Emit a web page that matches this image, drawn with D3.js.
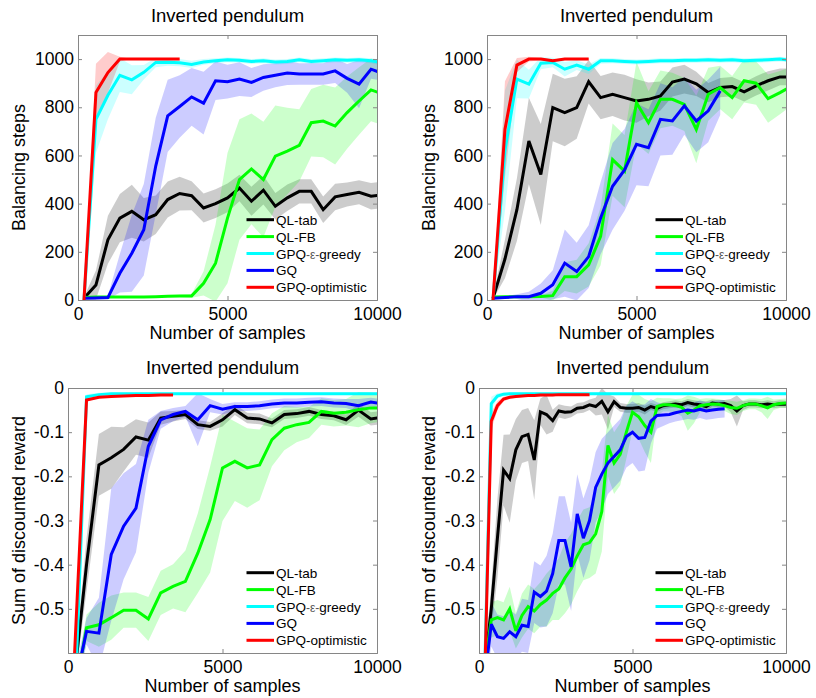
<!DOCTYPE html>
<html><head><meta charset="utf-8">
<script src="https://cdn.jsdelivr.net/npm/d3@7"></script>
<style>
body{margin:0;background:#fff}
svg{display:block}
text{font-family:Arial,"Liberation Sans",Helvetica,sans-serif;fill:#000}
</style></head>
<body><svg width="816" height="698"></svg>
<script>
// ---------- shared categories ----------
const seriesNames = ["QL-tab", "QL-FB", "GPQ-ε-greedy", "GQ", "GPQ-optimistic"];
const seriesColors = ["#000000", "#00ff00", "#00ffff", "#0000ff", "#ff0000"];
const panelTitle = "Inverted pendulum";
const xLabel = "Number of samples";
const xTicks = [0, 5000, 10000];
const stepsTicks = [0, 200, 400, 600, 800, 1000];
const rewardTicks = [0, -0.1, -0.2, -0.3, -0.4, -0.5];

const X400 = [200,600,1000,1400,1800,2200,2600,3000,3400,3800,4200,4600,5000,5400,5800,6200,6600,7000,7400,7800,8200,8600,9000,9400,9800,10200];
const X200 = [200,400,600,800,1000,1200,1400,1600,1800,2000,2200,2400,2600,2800,3000,3200,3400,3600,3800,4000,4200,4400,4600,4800,5000,5200,5400,5600,5800,6000,6200,6400,6600,6800,7000,7200,7400,7600,7800,8000,8200,8400,8600,8800,9000,9200,9400,9600,9800,10000];

// ---------- panel 1 (top left): balancing steps ----------
const p1Tab    = [7,62,250,340,368,333,354,417,442,433,382,400,424,465,410,456,389,424,451,451,375,428,438,447,431,436];
const p1TabSd  = [5,60,100,100,110,90,80,75,70,60,60,60,60,55,60,60,55,55,50,50,55,55,50,50,55,55];
const p1Fb     = [10,12,12,12,12,12,14,16,17,17,69,153,340,500,544,500,597,618,642,736,743,722,778,826,872,855];
const p1FbSd   = [3,3,3,3,3,3,3,4,5,8,50,160,270,250,230,240,210,180,150,140,150,160,150,140,130,130];
const p1Eps    = [0,750,850,933,914,945,986,987,985,978,988,993,997,995,990,993,988,990,997,990,993,997,995,997,993,985];
const p1EpsSd  = [0,140,100,70,60,30,20,15,15,15,12,10,10,10,10,10,10,10,10,10,10,10,10,10,10,12];
const p1Gq     = [7,8,10,111,194,292,556,764,803,843,817,910,906,917,903,924,933,942,938,938,938,951,920,896,958,940];
const p1GqSd   = [3,5,8,80,160,190,200,150,130,120,130,80,70,70,60,55,50,50,45,45,45,50,60,100,40,30];
const p1Opt    = [0,861,944,1000,1000,1000,1000,1000,1000];
const p1OptSd  = [0,120,85,10,0,0,0,0,0];

// ---------- panel 2 (top right): balancing steps ----------
const p2Tab    = [7,170,375,660,521,799,778,799,906,840,854,840,826,833,847,905,917,897,861,882,886,864,889,910,926,926];
const p2TabSd  = [5,80,130,180,210,140,140,130,90,90,90,95,90,70,60,60,60,50,40,40,40,40,40,40,35,35];
const p2Fb     = [12,14,14,14,15,18,97,97,146,264,583,535,819,736,833,833,812,708,854,882,840,910,900,836,861,889];
const p2FbSd   = [3,3,3,3,5,20,60,70,90,120,150,150,170,130,120,110,110,140,110,90,90,90,90,100,90,80];
const p2Eps    = [0,620,917,896,983,986,958,975,958,993,993,990,988,990,993,993,995,995,997,995,997,993,995,997,1000,995];
const p2EpsSd  = [0,250,80,60,25,20,30,20,20,12,10,10,10,10,10,10,10,10,10,10,10,10,10,10,10,10];
const p2Gq     = [7,10,14,14,28,63,153,118,180,340,472,540,646,632,750,743,806,743,785,868];
const p2GqSd   = [3,5,10,20,40,60,140,120,130,150,180,170,170,160,150,140,120,130,130,100];
const p2Opt    = [0,708,975,1000,1000,993,1000,1000,1000];
const p2OptSd  = [0,200,30,10,5,5,5,5,5];

// ---------- panel 3 (bottom left): sum of discounted reward ----------
const p3Tab    = [-0.66,-0.40,-0.174,-0.158,-0.139,-0.111,-0.118,-0.068,-0.064,-0.060,-0.083,-0.087,-0.072,-0.049,-0.068,-0.070,-0.079,-0.060,-0.058,-0.053,-0.060,-0.063,-0.072,-0.050,-0.070,-0.066];
const p3TabSd  = [0.02,0.06,0.07,0.07,0.05,0.04,0.04,0.015,0.012,0.01,0.01,0.01,0.015,0.012,0.012,0.012,0.01,0.01,0.01,0.01,0.01,0.01,0.012,0.015,0.015,0.015];
const p3Fb     = [-0.70,-0.543,-0.536,-0.52,-0.503,-0.503,-0.523,-0.464,-0.449,-0.438,-0.374,-0.298,-0.181,-0.166,-0.181,-0.174,-0.117,-0.091,-0.083,-0.078,-0.053,-0.057,-0.055,-0.049,-0.045,-0.045];
const p3FbSd   = [0.02,0.03,0.05,0.05,0.04,0.04,0.05,0.05,0.05,0.07,0.09,0.12,0.12,0.09,0.09,0.08,0.06,0.05,0.04,0.035,0.03,0.03,0.03,0.04,0.035,0.03];
const p3Eps    = [-0.75,-0.020,-0.015,-0.013,-0.013,-0.013,-0.013,-0.013,-0.013,-0.013,-0.013,-0.013,-0.013,-0.013,-0.013,-0.013,-0.013,-0.013,-0.013,-0.013,-0.013,-0.013,-0.013,-0.013,-0.013,-0.013];
const p3EpsSd  = [0.02,0.006,0.004,0.003,0.003,0.003,0.003,0.003,0.003,0.003,0.003,0.003,0.003,0.003,0.003,0.003,0.003,0.003,0.003,0.003,0.003,0.003,0.003,0.003,0.003,0.003];
const p3Gq     = [-0.68,-0.551,-0.555,-0.377,-0.313,-0.272,-0.132,-0.072,-0.060,-0.053,-0.072,-0.040,-0.048,-0.042,-0.042,-0.040,-0.036,-0.034,-0.034,-0.032,-0.031,-0.034,-0.035,-0.040,-0.032,-0.036];
const p3GqSd   = [0.03,0.03,0.08,0.15,0.12,0.10,0.06,0.02,0.015,0.012,0.06,0.015,0.012,0.01,0.01,0.01,0.01,0.01,0.01,0.01,0.01,0.01,0.01,0.015,0.01,0.01];
const p3Opt    = [-0.62,-0.027,-0.021,-0.019,-0.018,-0.017,-0.017,-0.016,-0.016];
const p3OptSd  = [0.02,0.003,0.002,0.002,0.002,0.002,0.002,0.002,0.002];

// ---------- panel 4 (bottom right): sum of discounted reward ----------
const p4Tab    = [-0.62,-0.50,-0.34,-0.186,-0.205,-0.14,-0.11,-0.105,-0.163,-0.054,-0.060,-0.074,-0.052,-0.055,-0.054,-0.046,-0.044,-0.038,-0.042,-0.030,-0.054,-0.031,-0.044,-0.046,-0.046,-0.044,-0.050,-0.042,-0.046,-0.040,-0.038,-0.036,-0.038,-0.033,-0.036,-0.038,-0.042,-0.034,-0.036,-0.035,-0.040,-0.052,-0.040,-0.036,-0.036,-0.038,-0.036,-0.038,-0.036,-0.037];
const p4TabSd  = [0.02,0.05,0.09,0.08,0.10,0.07,0.06,0.06,0.09,0.03,0.045,0.025,0.015,0.015,0.012,0.012,0.012,0.012,0.02,0.03,0.04,0.012,0.01,0.01,0.01,0.01,0.01,0.008,0.008,0.008,0.008,0.008,0.008,0.008,0.008,0.008,0.012,0.008,0.008,0.008,0.015,0.035,0.01,0.008,0.008,0.008,0.008,0.008,0.008,0.008];
const p4Fb     = [-0.62,-0.525,-0.52,-0.525,-0.50,-0.55,-0.515,-0.495,-0.505,-0.49,-0.48,-0.465,-0.455,-0.43,-0.41,-0.38,-0.355,-0.35,-0.33,-0.28,-0.13,-0.17,-0.15,-0.10,-0.055,-0.065,-0.085,-0.10,-0.042,-0.038,-0.038,-0.040,-0.044,-0.057,-0.050,-0.040,-0.038,-0.036,-0.037,-0.040,-0.044,-0.046,-0.040,-0.036,-0.036,-0.040,-0.045,-0.038,-0.035,-0.034];
const p4FbSd   = [0.03,0.04,0.04,0.04,0.05,0.04,0.05,0.05,0.05,0.05,0.06,0.06,0.07,0.08,0.08,0.08,0.08,0.08,0.09,0.09,0.07,0.07,0.07,0.06,0.04,0.05,0.06,0.07,0.02,0.015,0.015,0.015,0.02,0.04,0.03,0.015,0.015,0.012,0.012,0.012,0.015,0.015,0.012,0.012,0.012,0.015,0.025,0.012,0.01,0.01];
const p4Eps    = [-0.60,-0.035,-0.018,-0.014,-0.013,-0.013,-0.013,-0.013,-0.013,-0.013,-0.013,-0.013,-0.013,-0.013,-0.013,-0.013,-0.013,-0.013,-0.013,-0.013,-0.013,-0.013,-0.013,-0.013,-0.013,-0.013,-0.013,-0.013,-0.013,-0.013,-0.013,-0.013,-0.013,-0.013,-0.013,-0.013,-0.013,-0.013,-0.013,-0.013,-0.013,-0.013,-0.013,-0.013,-0.013,-0.013,-0.013,-0.013,-0.013,-0.013];
const p4EpsSd  = [0.03,0.015,0.006,0.004,0.003,0.003,0.003,0.003,0.003,0.003,0.003,0.003,0.003,0.003,0.003,0.003,0.003,0.003,0.003,0.003,0.003,0.003,0.003,0.003,0.003,0.003,0.003,0.003,0.003,0.003,0.003,0.003,0.003,0.003,0.003,0.003,0.003,0.003,0.003,0.003,0.003,0.003,0.003,0.003,0.003,0.003,0.003,0.003,0.003,0.003];
const p4Gq     = [-0.65,-0.535,-0.563,-0.567,-0.552,-0.563,-0.537,-0.540,-0.462,-0.472,-0.460,-0.42,-0.345,-0.345,-0.405,-0.285,-0.34,-0.30,-0.225,-0.195,-0.17,-0.155,-0.14,-0.11,-0.100,-0.114,-0.112,-0.075,-0.062,-0.061,-0.060,-0.056,-0.053,-0.050,-0.052,-0.048,-0.052,-0.050,-0.048,-0.047];
const p4GqSd   = [0.04,0.05,0.05,0.05,0.05,0.05,0.06,0.06,0.07,0.07,0.08,0.09,0.10,0.10,0.10,0.09,0.09,0.09,0.08,0.08,0.07,0.07,0.07,0.07,0.07,0.075,0.075,0.05,0.03,0.025,0.02,0.02,0.02,0.02,0.02,0.02,0.02,0.02,0.02,0.02];
const p4Opt    = [-0.62,-0.075,-0.040,-0.025,-0.021,-0.019,-0.018,-0.017,-0.017,-0.016,-0.016,-0.016,-0.015,-0.015,-0.015,-0.015,-0.015,-0.015];
const p4OptSd  = [0.03,0.02,0.01,0.005,0.004,0.003,0.003,0.003,0.003,0.003,0.003,0.003,0.003,0.003,0.003,0.003,0.003,0.003];

// ---------- drawing ----------
const svg = d3.select("svg");

function pack(xs, m, s) { return m.map((v, i) => ({x: xs[i], m: v, s: s[i]})); }

const panels = [
  {box:[78,377,35,300], yDomain:[0,1100], yTicks:stepsTicks, yFmt:d=>String(d), ylabel:"Balancing steps",
   ylabX:25, titleY:22,
   series:[pack(X400,p1Tab,p1TabSd), pack(X400,p1Fb,p1FbSd), pack(X400,p1Eps,p1EpsSd), pack(X400,p1Gq,p1GqSd), pack(X400,p1Opt,p1OptSd)]},
  {box:[487,786,35,300], yDomain:[0,1100], yTicks:stepsTicks, yFmt:d=>String(d), ylabel:"Balancing steps",
   ylabX:434.5, titleY:22,
   series:[pack(X400,p2Tab,p2TabSd), pack(X400,p2Fb,p2FbSd), pack(X400,p2Eps,p2EpsSd), pack(X400,p2Gq,p2GqSd), pack(X400,p2Opt,p2OptSd)]},
  {box:[68,377,388,653], yDomain:[-0.6,0], yTicks:rewardTicks, yFmt:d=>d===0?"0":d.toFixed(1), ylabel:"Sum of discounted reward",
   ylabX:25, titleY:373.5,
   series:[pack(X400,p3Tab,p3TabSd), pack(X400,p3Fb,p3FbSd), pack(X400,p3Eps,p3EpsSd), pack(X400,p3Gq,p3GqSd), pack(X400,p3Opt,p3OptSd)]},
  {box:[479,786,388,653], yDomain:[-0.6,0], yTicks:rewardTicks, yFmt:d=>d===0?"0":d.toFixed(1), ylabel:"Sum of discounted reward",
   ylabX:434.5, titleY:373.5,
   series:[pack(X200,p4Tab,p4TabSd), pack(X200,p4Fb,p4FbSd), pack(X200,p4Eps,p4EpsSd), pack(X200,p4Gq,p4GqSd), pack(X200,p4Opt,p4OptSd)]}
];

const axisColor = "#868686";
const tickFont = "17.5px";

panels.forEach((p, pi) => {
  const [L, R, T, B] = p.box;
  const x = d3.scaleLinear().domain([0, 10000]).range([L, R]);
  const y = d3.scaleLinear().domain(p.yDomain).range([B, T]);
  const g = svg.append("g");
  const clipId = "clip" + pi;
  svg.append("clipPath").attr("id", clipId).append("rect")
    .attr("x", L).attr("y", T).attr("width", R - L).attr("height", B - T);

  // bands
  const area = d3.area().x(d => x(d.x)).y0(d => y(d.m - d.s)).y1(d => y(d.m + d.s));
  const plot = g.append("g").attr("clip-path", `url(#${clipId})`);
  p.series.forEach((s, si) => {
    plot.append("path").attr("d", area(s)).attr("fill", seriesColors[si])
      .attr("fill-opacity", 0.2).attr("stroke", "none");
  });
  // lines
  const line = d3.line().x(d => x(d.x)).y(d => y(d.m));
  p.series.forEach((s, si) => {
    plot.append("path").attr("d", line(s)).attr("fill", "none")
      .attr("stroke", seriesColors[si]).attr("stroke-width", 3)
      .attr("stroke-linejoin", "miter").attr("stroke-miterlimit", 3);
  });

  // axes (ticks inward, mirrored)
  const ax = [
    g.append("g").attr("transform", `translate(0,${B})`).call(d3.axisBottom(x).tickValues(xTicks).tickSize(-4).tickPadding(8).tickFormat(d3.format("d"))),
    g.append("g").attr("transform", `translate(0,${T})`).call(d3.axisTop(x).tickValues(xTicks).tickSize(-4).tickFormat("")),
    g.append("g").attr("transform", `translate(${L},0)`).call(d3.axisLeft(y).tickValues(p.yTicks).tickSize(-4).tickPadding(4).tickFormat(p.yFmt)),
    g.append("g").attr("transform", `translate(${R},0)`).call(d3.axisRight(y).tickValues(p.yTicks).tickSize(-4).tickFormat(""))
  ];
  ax.forEach(a => {
    a.select(".domain").attr("stroke", axisColor);
    a.selectAll(".tick line").attr("stroke", axisColor);
    a.selectAll(".tick text").attr("font-size", tickFont).attr("fill", "#000")
      .attr("font-family", "Arial, 'Liberation Sans', sans-serif");
  });

  // title and labels
  g.append("text").attr("x", (L + R) / 2).attr("y", p.titleY).attr("text-anchor", "middle")
    .attr("font-size", "18.5px").text(panelTitle);
  g.append("text").attr("x", (L + R) / 2).attr("y", B + 39).attr("text-anchor", "middle")
    .attr("font-size", "18px").text(xLabel);
  g.append("text").attr("transform", `translate(${p.ylabX},${(T + B) / 2}) rotate(-90)`)
    .attr("text-anchor", "middle").attr("font-size", "18px").text(p.ylabel);

  // legend
  const lg = g.append("g");
  seriesNames.forEach((name, si) => {
    const ry = B - 12.7 - (4 - si) * 16.9;
    lg.append("line").attr("x1", R - 130.5).attr("x2", R - 103).attr("y1", ry).attr("y2", ry)
      .attr("stroke", seriesColors[si]).attr("stroke-width", 3);
    const t = lg.append("text").attr("x", R - 101).attr("y", ry + 5).attr("font-size", "13.5px");
    if (name.includes("ε")) {
      const parts = name.split("-ε-");
      t.append("tspan").text(parts[0]);
      t.append("tspan").attr("fill", "#555").attr("font-size", "12px").text("-ε-");
      t.append("tspan").text(parts[1]);
    } else {
      t.text(name);
    }
  });
});
</script></body></html>
